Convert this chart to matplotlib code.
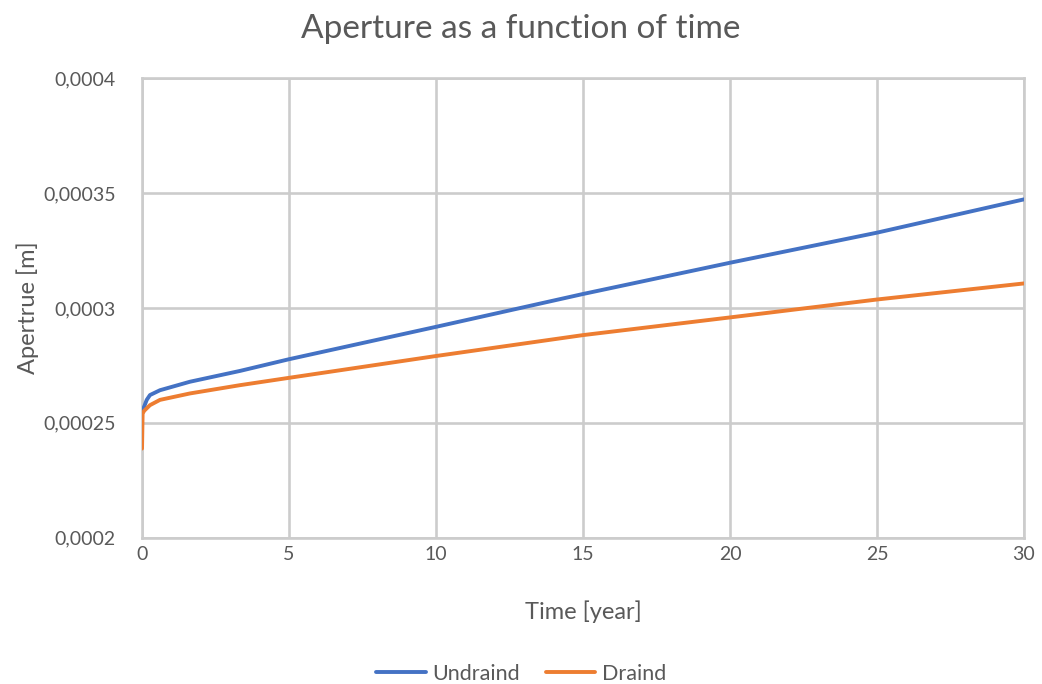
import matplotlib
matplotlib.use('Agg')
import matplotlib.pyplot as plt
from matplotlib.ticker import MultipleLocator, FuncFormatter

plt.rcParams['font.family'] = ['Lato', 'DejaVu Sans']

# aperture over time for the two loading cases
time_undrained = [0, 0.07, 0.16, 0.27, 0.61, 1.63, 3.33, 5, 10, 15, 20, 25, 30]
aperture_undrained = [0.0002548, 0.0002570, 0.0002600, 0.0002621, 0.0002642,
                      0.0002679, 0.0002726, 0.0002777, 0.0002918, 0.0003061,
                      0.0003197, 0.0003328, 0.0003473]

time_drained = [0, 0.02, 0.07, 0.27, 0.61, 1.63, 3.33, 5, 10, 15, 20, 25, 30]
aperture_drained = [0.0002388, 0.0002540, 0.0002552, 0.0002577, 0.0002600,
                    0.0002628, 0.0002664, 0.0002696, 0.0002791, 0.0002882,
                    0.0002959, 0.0003037, 0.0003107]

text_col = '#595959'
grid_col = '#cccccc'

fig = plt.figure(figsize=(10.42, 6.84), dpi=100)
ax = fig.add_axes([0.1363, 0.2139, 0.8464, 0.6716])

ax.plot(time_undrained, aperture_undrained, color='#4472C4', lw=2.8,
        label='Undraind', solid_capstyle='round', zorder=3)
ax.plot(time_drained, aperture_drained, color='#ED7D31', lw=2.8,
        label='Draind', solid_capstyle='round', zorder=3)

ax.set_xlim(0, 30)
ax.set_ylim(0.0002, 0.0004)
ax.xaxis.set_major_locator(MultipleLocator(5))
ax.yaxis.set_major_locator(MultipleLocator(0.00005))
ax.yaxis.set_major_formatter(
    FuncFormatter(lambda v, p: '{:g}'.format(round(v, 6)).replace('.', ',')))

ax.grid(True, color=grid_col, lw=1.9)
ax.set_axisbelow(True)
for s in ax.spines.values():
    s.set_color(grid_col)
    s.set_linewidth(1.9)
ax.tick_params(length=0, labelsize=14, labelcolor=text_col)
ax.tick_params(axis='y', pad=19)
ax.tick_params(axis='x', pad=6)

# title and legend sit centred on the whole figure
fig.text(0.5, 0.958, 'Aperture as a function of time', fontsize=24,
         color=text_col, ha='center', va='center')
ax.set_xlabel('Time [year]', fontsize=17, color=text_col, labelpad=27)
ax.set_ylabel('Apertrue [m]', fontsize=17, color=text_col, labelpad=3)

leg = fig.legend(loc='center', bbox_to_anchor=(0.5, 0.015), ncol=2,
                 frameon=False, fontsize=15.5, handlelength=2.3,
                 handletextpad=0.3, columnspacing=1.2)
for t in leg.get_texts():
    t.set_color(text_col)

fig.savefig('out.png', dpi=100)
